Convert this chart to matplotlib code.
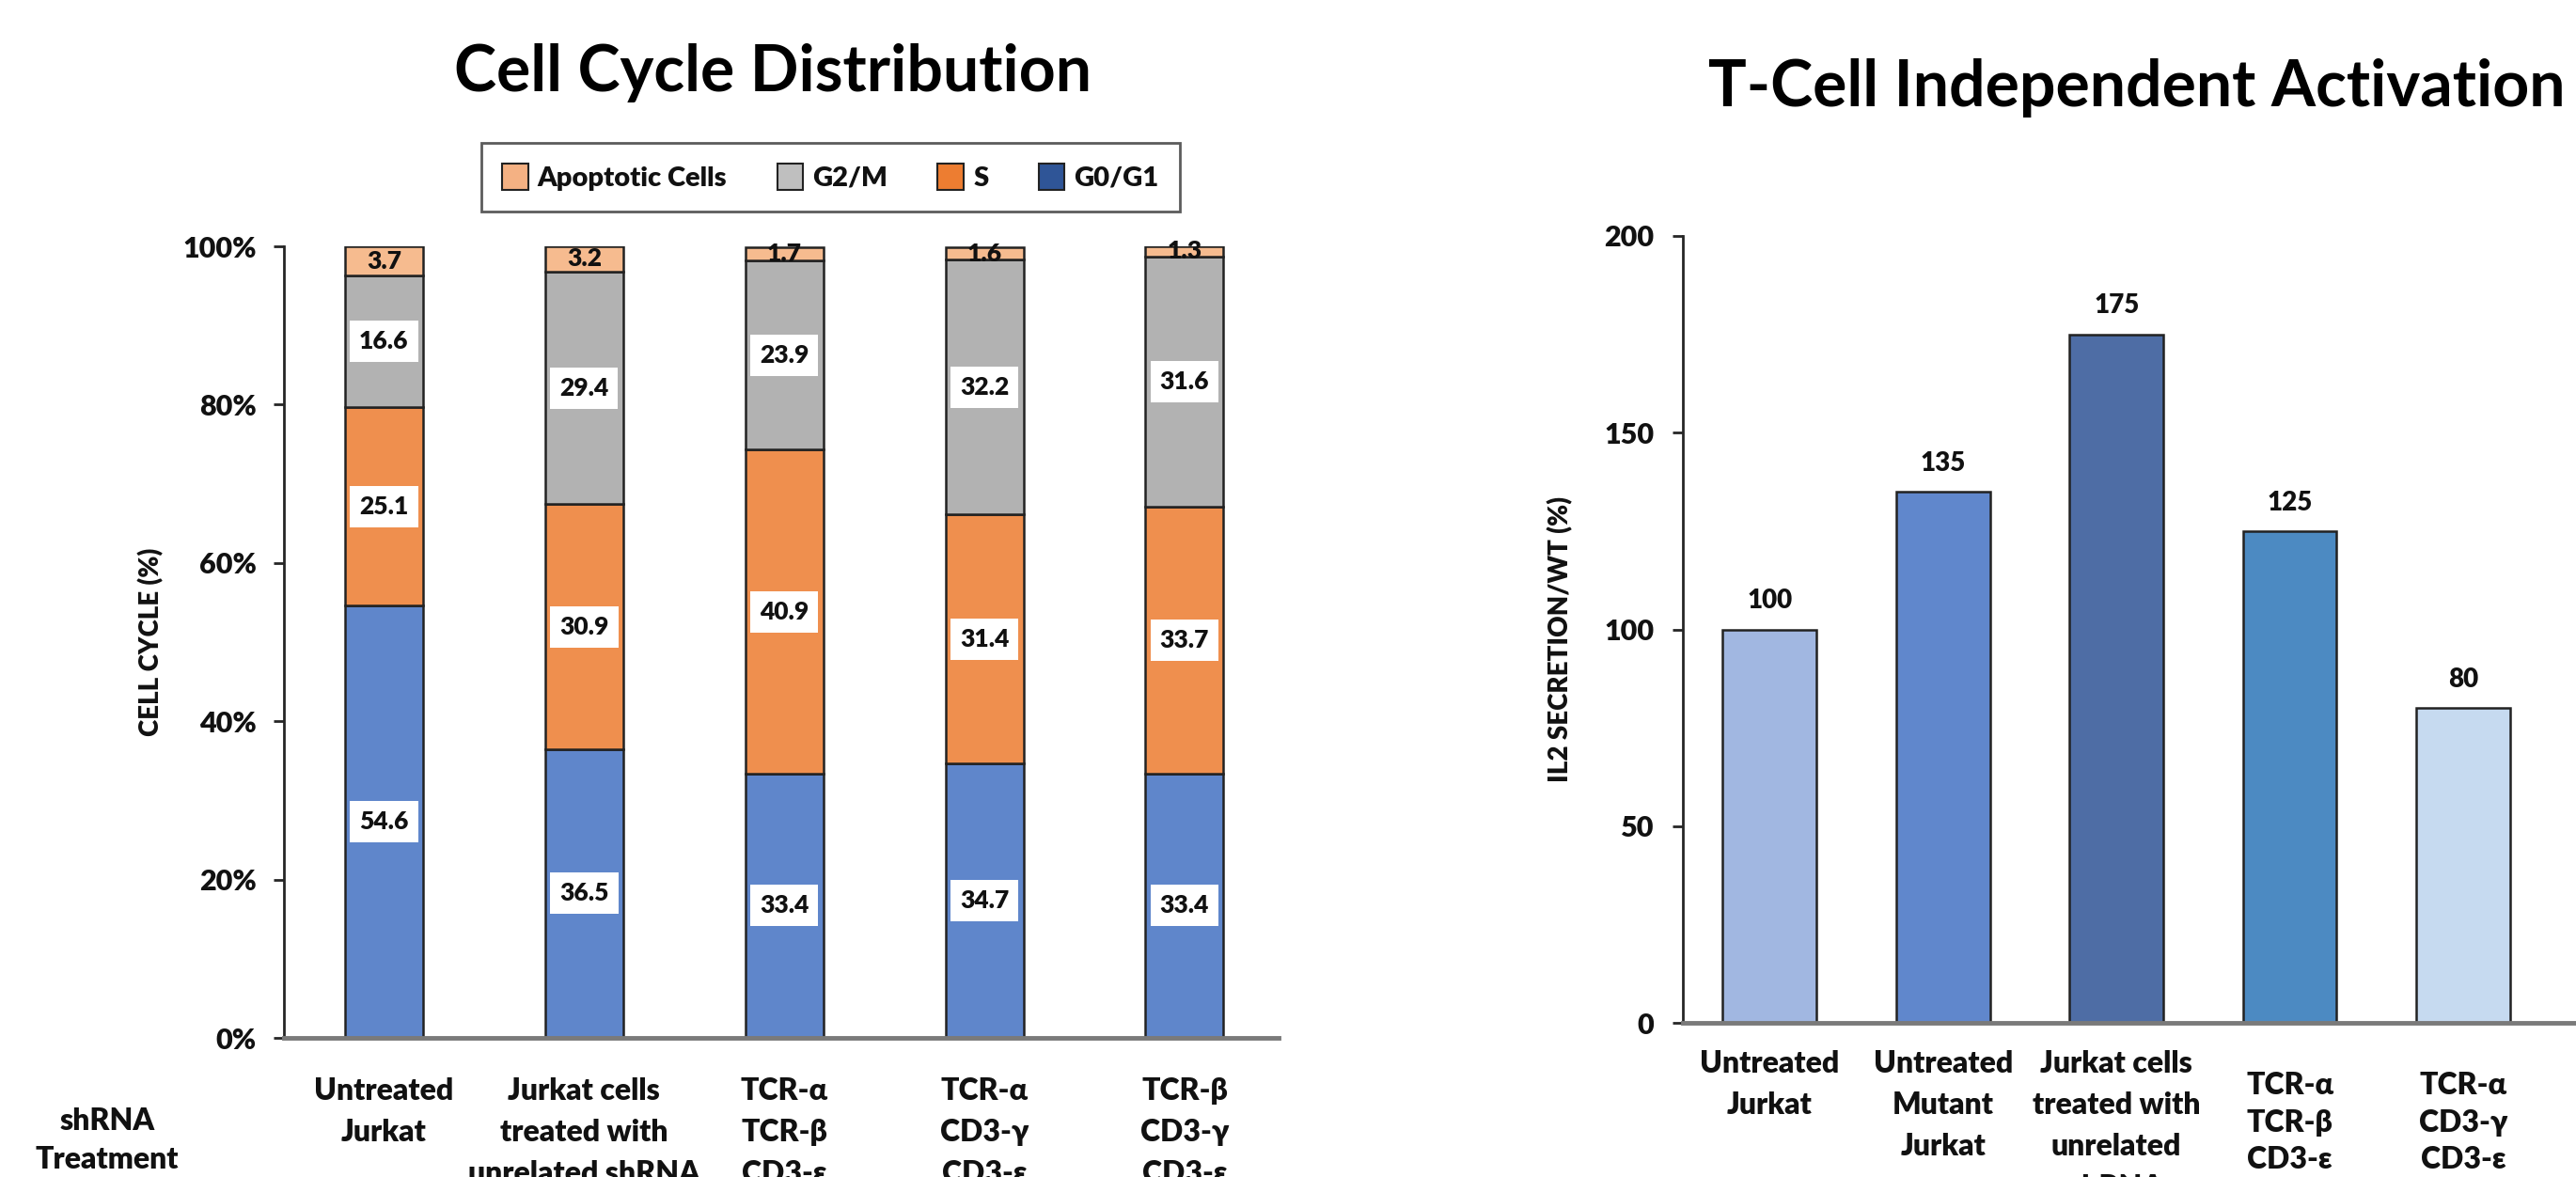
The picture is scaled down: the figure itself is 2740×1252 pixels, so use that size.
import matplotlib
matplotlib.use("Agg")
import matplotlib.pyplot as plt
from matplotlib.patches import Patch
import numpy as np

plt.rcParams['font.family'] = ['Lato', 'DejaVu Sans']
plt.rcParams['font.weight'] = 'heavy'

# cell cycle distribution (%), stacked bottom -> top
cc_groups = ["Untreated\nJurkat",
             "Jurkat cells\ntreated with\nunrelated shRNA",
             "TCR-α\nTCR-β\nCD3-ε",
             "TCR-α\nCD3-γ\nCD3-ε",
             "TCR-β\nCD3-γ\nCD3-ε"]
g0g1 = [54.6, 36.5, 33.4, 34.7, 33.4]
s_phase = [25.1, 30.9, 40.9, 31.4, 33.7]
g2m = [16.6, 29.4, 23.9, 32.2, 31.6]
apoptotic = [3.7, 3.2, 1.7, 1.6, 1.3]
phase_names = ["G0/G1", "S", "G2/M", "Apoptotic Cells"]
cc_ticks = [0, 20, 40, 60, 80, 100]

# IL2 secretion relative to WT (%)
il2_groups = ["Untreated\nJurkat",
              "Untreated\nMutant\nJurkat",
              "Jurkat cells\ntreated with\nunrelated\nshRNA",
              "TCR-α\nTCR-β\nCD3-ε",
              "TCR-α\nCD3-γ\nCD3-ε"]
il2_values = [100, 135, 175, 125, 80]
il2_ticks = [0, 50, 100, 150, 200]

# colours
phase_bar_cols = ["#5F86CB", "#EF8F4E", "#B2B2B2", "#F6BB8F"]
phase_key_cols = ["#2F5597", "#ED7D31", "#BFBFBF", "#F4B183"]
il2_cols = ["#A1B7E1", "#6087CC", "#4E6DA5", "#4C8AC2", "#C6DAF0"]
edge = "#222222"
ink = "#111111"

W, H = 2740, 1252
fig = plt.figure(figsize=(W / 100, H / 100), dpi=100)


def style_axis(ax, pad):
    ax.spines['top'].set_visible(False)
    ax.spines['right'].set_visible(False)
    ax.spines['left'].set_color('#262626')
    ax.spines['left'].set_linewidth(2)
    ax.spines['bottom'].set_color('#7a7a7a')
    ax.spines['bottom'].set_linewidth(3.5)
    ax.tick_params(axis='y', length=8, width=2, direction='out', labelsize=22, pad=pad,
                   color='#262626', labelcolor=ink)
    ax.tick_params(axis='x', length=0, labelbottom=False)


# ---- left: stacked cell cycle bars ----
ax1 = fig.add_axes([302 / W, 1 - 1104 / H, 1058 / W, 842 / H])
x = np.arange(len(cc_groups))
bottom = np.zeros(len(x))
for vals, col, boxed in zip([g0g1, s_phase, g2m, apoptotic], phase_bar_cols, [True, True, True, False]):
    ax1.bar(x, vals, 0.39, bottom=bottom, color=col, edgecolor=edge, linewidth=1.8)
    for xi, b, v in zip(x, bottom, vals):
        kw = dict(bbox=dict(boxstyle='square,pad=0.38', fc='white', ec='none')) if boxed else {}
        ax1.text(xi, b + v / 2, f"{v:.1f}", ha='center', va='center', fontsize=19,
                 color=ink, **kw)
    bottom += np.array(vals)

ax1.set_xlim(-0.5, 4.47)
ax1.set_ylim(0, 100)
ax1.set_yticks(cc_ticks)
ax1.set_yticklabels([f"{t}%" for t in cc_ticks])
style_axis(ax1, 13)
for xi, lab in zip(x, cc_groups):
    ax1.text(xi, -0.050, lab, transform=ax1.get_xaxis_transform(), ha='center', va='top',
             fontsize=23, linespacing=1.62, color=ink, clip_on=False)

fig.text(114 / W, 1 - 1178 / H, "shRNA\nTreatment", ha='center', va='top', fontsize=23,
         linespacing=1.5, color=ink)
fig.text(161 / W, 1 - 683 / H, "CELL CYCLE (%)", rotation=90, ha='center', va='center',
         fontsize=20, color=ink)
fig.text(483 / W, 1 - 97 / H, "Cell Cycle Distribution", ha='left', va='baseline',
         fontsize=49, fontweight='bold')

handles = [Patch(facecolor=c, edgecolor=edge, linewidth=1.5) for c in phase_key_cols[::-1]]
leg = fig.legend(handles, phase_names[::-1], ncol=4, loc='upper left',
                 bbox_to_anchor=(512 / W, 1 - 152 / H),
                 frameon=True, fancybox=False, edgecolor='#333333', fontsize=21,
                 handlelength=0.95, handleheight=1.1, handletextpad=0.35,
                 columnspacing=1.82, borderpad=0.75, borderaxespad=0)
leg.get_frame().set_linewidth(2)
for t in leg.get_texts():
    t.set_color(ink)

# ---- right: IL2 secretion bars ----
ax2 = fig.add_axes([1790 / W, 1 - 1088 / H, 950 / W, 837 / H])
x2 = np.arange(len(il2_groups))
ax2.bar(x2, il2_values, 0.54, color=il2_cols, edgecolor=edge, linewidth=1.8)
for xi, v in zip(x2, il2_values):
    ax2.annotate(str(v), (xi, v), xytext=(0, 16), textcoords='offset points',
                 ha='center', va='baseline', fontsize=20, color=ink)
ax2.set_xlim(-0.5, 4.65)
ax2.set_ylim(0, 200)
ax2.set_yticks(il2_ticks)
style_axis(ax2, 14)
for xi, lab in zip(x2, il2_groups):
    tcr = lab.startswith("TCR")
    ax2.text(xi, -0.062 if tcr else -0.035, lab, transform=ax2.get_xaxis_transform(),
             ha='center', va='top', fontsize=23, linespacing=1.45 if tcr else 1.62,
             color=ink, clip_on=False)

fig.text(1660 / W, 1 - 680 / H, "IL2 SECRETION/WT (%)", rotation=90, ha='center', va='center',
         fontsize=20, color=ink)
fig.text(1817 / W, 1 - 113 / H, "T-Cell Independent Activation", ha='left', va='baseline',
         fontsize=49, fontweight='bold')

fig.savefig("out.png", dpi=100)
